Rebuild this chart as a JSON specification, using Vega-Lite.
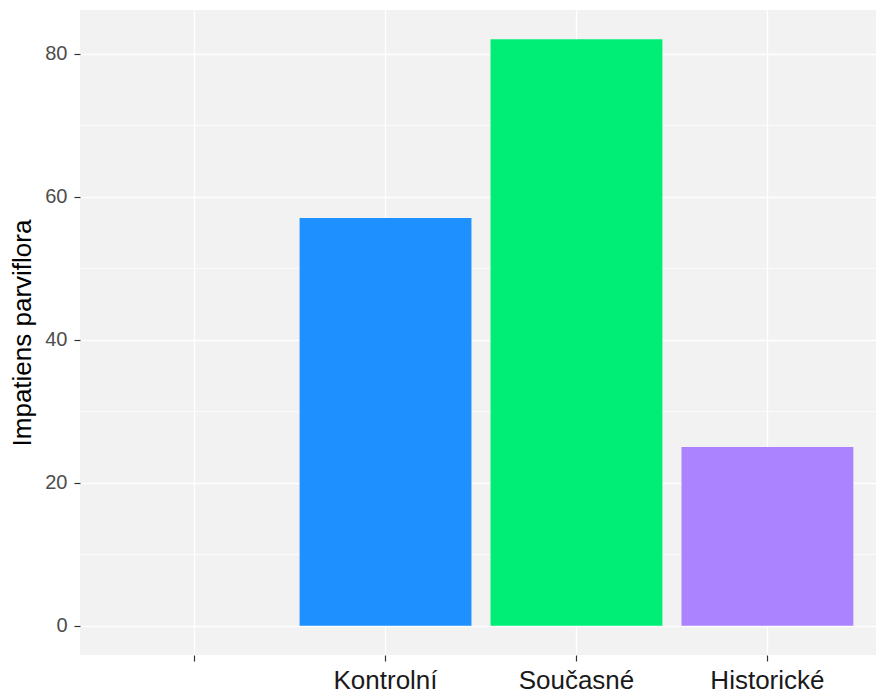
{
  "$schema": "https://vega.github.io/schema/vega-lite/v6.json",
  "autosize": {"type": "none"},
  "padding": {"top": 10, "left": 80, "right": 0, "bottom": 40},
  "width": 796,
  "height": 645,
  "background": "white",
  "config": {
    "view": {"stroke": null, "fill": "#F2F2F2"},
    "font": "Liberation Sans"
  },
  "data": {
    "values": [
      {"skupina": "Kontrolní", "pocet": 57},
      {"skupina": "Současné", "pocet": 82},
      {"skupina": "Historické", "pocet": 25}
    ]
  },
  "mark": {"type": "bar"},
  "encoding": {
    "x": {
      "field": "skupina",
      "type": "nominal",
      "scale": {
        "domain": ["", "Kontrolní", "Současné", "Historické"],
        "range": [0, 802],
        "paddingInner": 0.1,
        "paddingOuter": 0.15
      },
      "axis": {
        "title": null,
        "labelAngle": 0,
        "bandPosition": 0.5,
        "grid": true,
        "gridColor": "#FFFFFF",
        "gridWidth": 1.3,
        "domain": false,
        "tickColor": "#333333",
        "tickSize": 6,
        "tickWidth": 1.2,
        "labelFont": "Liberation Sans",
        "labelFontSize": 26,
        "labelColor": "#1A1A1A",
        "labelPadding": 6
      }
    },
    "y": {
      "field": "pocet",
      "type": "quantitative",
      "scale": {"domain": [-4.1, 86.1], "nice": false, "zero": false},
      "axis": {
        "title": "Impatiens parviflora",
        "titleFont": "Liberation Sans",
        "titleFontSize": 26,
        "titleFontWeight": "normal",
        "titleColor": "#000000",
        "titlePadding": 9,
        "values": [0, 10, 20, 30, 40, 50, 60, 70, 80],
        "labelExpr": "datum.value % 20 === 0 ? datum.label : ''",
        "grid": true,
        "gridColor": "#FFFFFF",
        "gridWidth": {"condition": {"test": "datum.value % 20 === 0", "value": 1.3}, "value": 0.7},
        "domain": false,
        "tickColor": "#333333",
        "tickOpacity": {"condition": {"test": "datum.value % 20 === 0", "value": 1}, "value": 0},
        "tickSize": 6,
        "tickWidth": 1.2,
        "labelFont": "Liberation Sans",
        "labelFontSize": 20,
        "labelColor": "#4D4D4D",
        "labelPadding": 7
      }
    },
    "y2": {"datum": 0},
    "color": {
      "field": "skupina",
      "type": "nominal",
      "scale": {
        "domain": ["Kontrolní", "Současné", "Historické"],
        "range": ["#1E90FF", "#00EE76", "#AB82FF"]
      },
      "legend": null
    }
  }
}
